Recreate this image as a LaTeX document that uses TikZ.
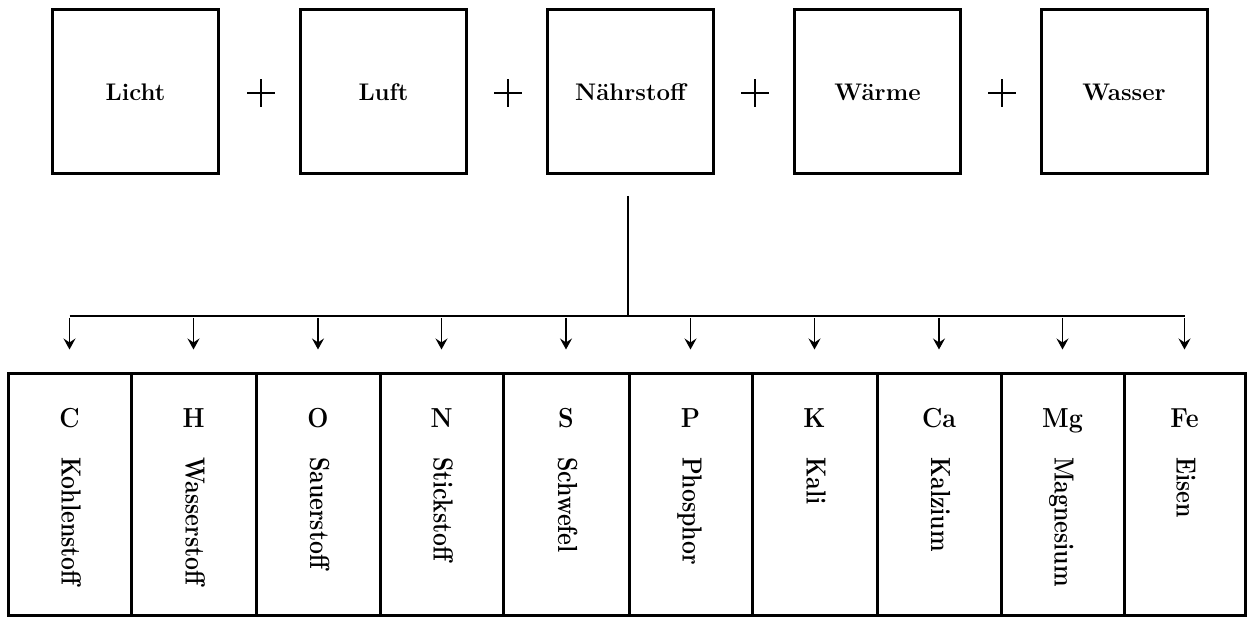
\documentclass[tikz,border=0pt]{standalone}
\usepackage{fontspec}
\usetikzlibrary{arrows.meta}
\begin{document}
\begin{tikzpicture}[x=1pt,y=-1pt,
  topbox/.style={draw,line width=3pt,minimum width=166pt,minimum height=164pt,inner sep=0pt,
    font=\fontsize{24}{28}\selectfont\bfseries},
  cell/.style={draw,line width=3pt,minimum height=242pt,inner sep=0pt},
  sym/.style={anchor=base,inner sep=0pt,font=\fontsize{25}{28}\selectfont\bfseries},
  nm/.style={rotate=-90,anchor=base west,inner sep=0pt,font=\fontsize{23}{28}\selectfont\bfseries},
  conn/.style={line width=1.4pt},
  arr/.style={conn,-{Stealth[length=11pt,width=12pt,inset=4pt]},shorten >=22pt,shorten <=2pt},
  pl/.style={line width=1.2pt}]
\useasboundingbox (0,0) rectangle (1247,617);

% top boxes
\node[topbox] (n1) at (135.5,92) {Licht};
\node[topbox] (n2) at (383.5,92) {Luft};
\node[topbox] (n3) at (630.5,92) {Nährstoff};
\node[topbox] (n4) at (877.5,92) {Wärme};
\node[topbox] (n5) at (1124,92) {Wasser};

% plus signs
\foreach \i/\x in {1/261,2/508,3/755,4/1002}{
  \coordinate (p\i) at (\x,93);
  \draw[pl] ([xshift=-14pt]p\i) -- ([xshift=14pt]p\i)
            ([yshift=-14pt]p\i) -- ([yshift=14pt]p\i);
}

% table
\foreach \i/\l/\r/\s/\n in {1/8/131/C/Kohlenstoff,2/131/256/H/Wasserstoff,3/256/380/O/Sauerstoff,
  4/380/503/N/Stickstoff,5/503/629/S/Schwefel,6/629/752/P/Phosphor,7/752/877/K/Kali,
  8/877/1001/Ca/Kalzium,9/1001/1124/Mg/Magnesium,10/1124/1245/Fe/Eisen}{
  \node[cell,minimum width={(\r-\l)*1pt}] (c\i) at ({(\l+\r)/2},494) {};
  \node[sym] (s\i) at ({(\l+\r)/2},427) {\scalebox{1}[1.1]{\s}};
  \node[nm] (t\i) at ({(\l+\r)/2-8},457) {\scalebox{1}[1.2]{\n}};
}

% connectors
\coordinate (stemtop) at (628,196);
\coordinate (bar) at (628,316);
\draw[conn] (stemtop) -- (bar);
\draw[conn] (c1 |- bar) -- (c10 |- bar);
\foreach \i in {1,...,10}{
  \draw[arr] (c\i |- bar) -- (c\i.north);
}
\end{tikzpicture}
\end{document}
